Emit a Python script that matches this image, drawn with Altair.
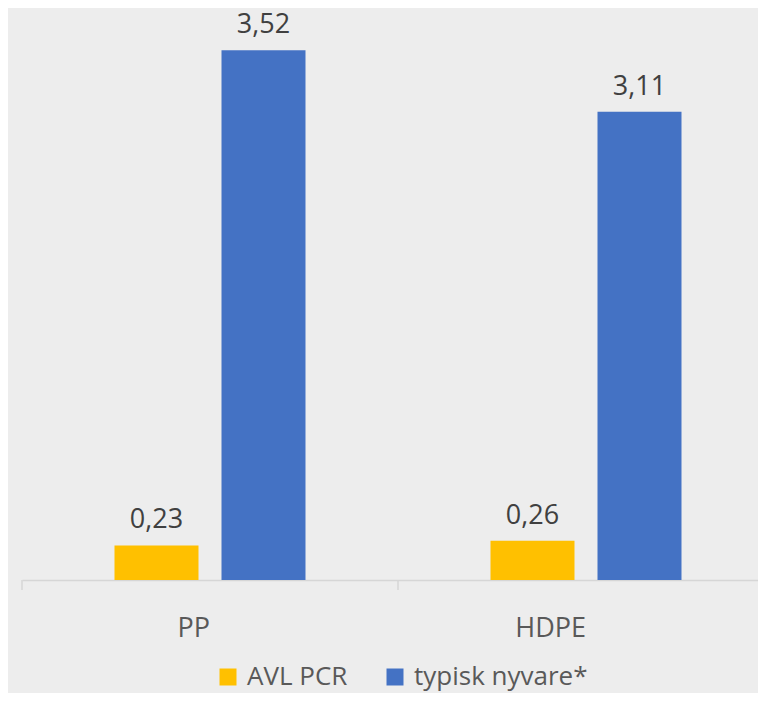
import altair as alt
import pandas as pd

categories = ["PP", "HDPE"]
series = ["AVL PCR", "typisk nyvare*"]
avl_pcr = [0.23, 0.26]
typisk_nyvare = [3.52, 3.11]
colors = ["#FFC000", "#4472C4"]

rows = []
for i, c in enumerate(categories):
    for s, vals in zip(series, [avl_pcr, typisk_nyvare]):
        v = vals[i]
        rows.append({"cat": c, "serie": s, "val": v, "lab": f"{v:.2f}".replace(".", ",")})
df = pd.DataFrame(rows)
ticks_df = pd.DataFrame({"cat": categories})

FONT = "Open Sans"

xscale = alt.Scale(domain=categories, range=[0, 752], paddingInner=0, paddingOuter=0)
xoff = alt.XOffset("serie:N", sort=series,
                   scale=alt.Scale(domain=series, paddingInner=0.215, paddingOuter=0.8645))
yscale = alt.Scale(domain=[0, 3.8], nice=False, zero=True)

bars = alt.Chart(df).mark_bar().encode(
    x=alt.X("cat:N", sort=categories, scale=xscale,
            axis=alt.Axis(title=None, ticks=False, tickSize=0, labelAngle=0,
                          labelFont=FONT, labelFontSize=27, labelColor="#595959",
                          labelPadding=48, domainColor="#D6D6D6", domainWidth=1.5)),
    xOffset=xoff,
    y=alt.Y("val:Q", scale=yscale, axis=None),
    color=alt.Color("serie:N", sort=series,
                    scale=alt.Scale(domain=series, range=colors),
                    legend=alt.Legend(title=None, orient="none", direction="horizontal",
                                      legendX=193, legendY=656, padding=0,
                                      symbolType="square", symbolSize=289,
                                      symbolStrokeWidth=0, symbolOpacity=1,
                                      labelFont=FONT, labelFontSize=26,
                                      labelColor="#595959", labelOffset=6,
                                      labelLimit=500, columnPadding=34)),
)

labels = alt.Chart(df).mark_text(font=FONT, fontSize=27, color="#404040",
                                 baseline="alphabetic", dy=-17).encode(
    x=alt.X("cat:N", sort=categories, scale=xscale),
    xOffset=xoff,
    y=alt.Y("val:Q", scale=yscale),
    text="lab:N",
)

tick_rules = alt.Chart(ticks_df).mark_rule(color="#D6D6D6", strokeWidth=1.5).encode(
    x=alt.X("cat:N", sort=categories, scale=xscale, bandPosition=0),
    y=alt.value(572),
    y2=alt.value(582),
)

chart = alt.layer(tick_rules, bars, labels).properties(
    width=736, height=572,
    autosize=alt.AutoSizeParams(type="none"),
    padding={"left": 14, "top": 0, "right": 0, "bottom": 113},
    background="#EDEDED",
).configure_view(stroke=None)

chart.save("out.html", embed_options={"renderer": "svg", "actions": False})
